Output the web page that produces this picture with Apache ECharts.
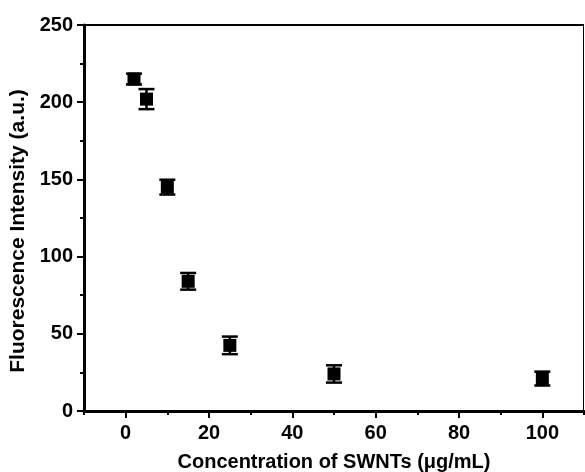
<!DOCTYPE html>
<html>
<head>
<meta charset="utf-8">
<script src="https://cdn.jsdelivr.net/npm/echarts@6/dist/echarts.min.js"></script>
<style>html,body{margin:0;padding:0;background:#fff}#c{width:585px;height:472px}</style>
</head>
<body>
<div id="c"></div>
<script>
const concentration = [2, 5, 10, 15, 25, 50, 100];
const intensity = [215, 202, 145, 84, 42.5, 24, 21];
const errorValues = [3.5, 6.5, 4.8, 5.4, 5.7, 5.6, 4.5];
const xTickLabels = [0, 20, 40, 60, 80, 100];
const yTickLabels = [0, 50, 100, 150, 200, 250];

const font = '"Liberation Sans", Arial, sans-serif';
const chart = echarts.init(document.getElementById('c'));
const scatterData = concentration.map((x, i) => [x, intensity[i]]);
const errData = concentration.map((x, i) => [x, intensity[i] - errorValues[i], intensity[i] + errorValues[i]]);

const labelStyle = { fontFamily: font, fontWeight: 'bold', fontSize: 20, color: '#000' };

chart.setOption({
  animation: false,
  grid: { left: 84, right: 1, top: 25, bottom: 61, containLabel: false, outerBoundsMode: 'none' },
  xAxis: [{
    type: 'value', min: -10, max: 110, interval: 10, position: 'bottom',
    name: 'Concentration of SWNTs (μg/mL)', nameLocation: 'middle', nameGap: 41,
    nameTextStyle: { fontFamily: font, fontWeight: 'bold', fontSize: 20, color: '#000' },
    axisLine: { show: true, onZero: false, lineStyle: { color: '#000', width: 3 } },
    axisTick: { show: true, inside: false, length: 4, lineStyle: { color: '#000', width: 2 } },
    axisLabel: Object.assign({ margin: 12, formatter: v => (xTickLabels.indexOf(v) >= 0 ? String(v) : '') }, labelStyle),
    splitLine: { show: false }
  }, {
    type: 'value', min: -10, max: 110, interval: 10, position: 'bottom', offset: 0,
    axisLine: { show: false, onZero: false },
    axisTick: { show: true, inside: false, length: 7, customValues: xTickLabels, lineStyle: { color: '#000', width: 2 } },
    axisLabel: { show: false },
    splitLine: { show: false }
  }],
  yAxis: [{
    type: 'value', min: 0, max: 250, interval: 25, position: 'left',
    name: 'Fluorescence Intensity (a.u.)', nameLocation: 'middle', nameGap: 54,
    nameTextStyle: { fontFamily: font, fontWeight: 'bold', fontSize: 21, color: '#000', padding: [0, 26, 0, 0] },
    axisLine: { show: true, onZero: false, lineStyle: { color: '#000', width: 3 } },
    axisTick: { show: true, inside: false, length: 4, lineStyle: { color: '#000', width: 2 } },
    axisLabel: Object.assign({ margin: 11, formatter: v => (yTickLabels.indexOf(v) >= 0 ? String(v) : '') }, labelStyle),
    splitLine: { show: false }
  }, {
    type: 'value', min: 0, max: 250, interval: 25, position: 'left', offset: 0,
    axisLine: { show: false, onZero: false },
    axisTick: { show: true, inside: false, length: 7, customValues: yTickLabels, lineStyle: { color: '#000', width: 2 } },
    axisLabel: { show: false },
    splitLine: { show: false }
  }],
  graphic: [],
  series: [
    {
      type: 'custom',
      data: errData,
      renderItem: function (params, api) {
        const x = api.value(0);
        const lo = api.coord([x, api.value(1)]);
        const hi = api.coord([x, api.value(2)]);
        const hw = 8;
        const st = { stroke: '#000', lineWidth: 2.5 };
        return {
          type: 'group',
          children: [
            { type: 'line', shape: { x1: lo[0], y1: lo[1], x2: hi[0], y2: hi[1] }, style: st },
            { type: 'line', shape: { x1: lo[0] - hw, y1: lo[1], x2: lo[0] + hw, y2: lo[1] }, style: st },
            { type: 'line', shape: { x1: hi[0] - hw, y1: hi[1], x2: hi[0] + hw, y2: hi[1] }, style: st }
          ]
        };
      },
      z: 3
    },
    {
      type: 'scatter',
      data: scatterData,
      symbol: 'rect',
      symbolSize: [13, 13],
      itemStyle: { color: '#000', opacity: 1 },
      z: 4
    }
  ]
});

const tl = chart.convertToPixel({ xAxisIndex: 0, yAxisIndex: 0 }, [-10, 250]);
const br = chart.convertToPixel({ xAxisIndex: 0, yAxisIndex: 0 }, [110, 0]);
chart.setOption({
  graphic: [
    { type: 'line', shape: { x1: tl[0], y1: tl[1], x2: br[0], y2: tl[1] }, style: { stroke: '#000', lineWidth: 2 }, z: 10 },
    { type: 'line', shape: { x1: br[0] - 0.5, y1: tl[1], x2: br[0] - 0.5, y2: br[1] }, style: { stroke: '#000', lineWidth: 1 }, z: 10 }
  ]
});
</script>
</body>
</html>
